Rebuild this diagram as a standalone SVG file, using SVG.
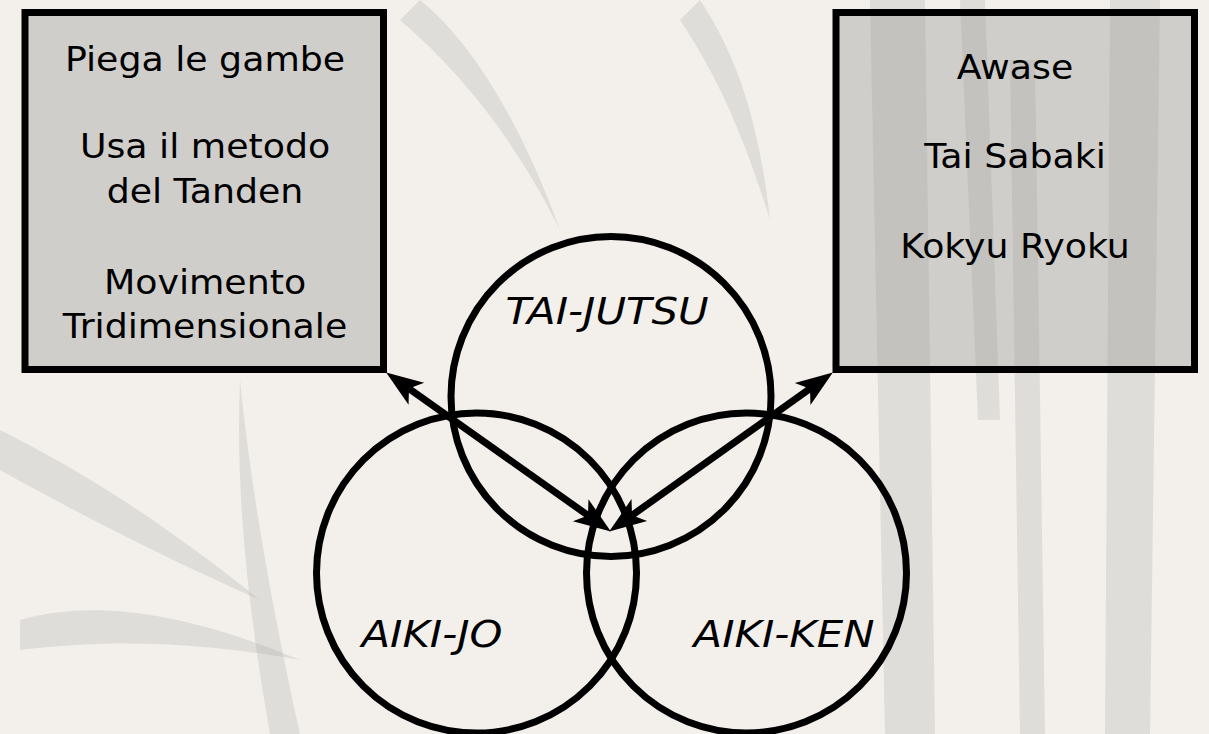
<svg xmlns="http://www.w3.org/2000/svg" width="1209" height="734" viewBox="0 0 1209 734">
  <defs>
    <style>
      .box { fill: #8f8f8f; fill-opacity: 0.35; stroke: #000; stroke-width: 7; }
      .ring { fill: none; stroke: #000; stroke-width: 7; }
      .conn { fill: none; stroke: #000; stroke-width: 7; }
      .t { font-family: "DejaVu Sans", Verdana, sans-serif; font-size: 33px; fill: #000; text-anchor: middle; }
      .lbl { font-family: "DejaVu Sans", Verdana, sans-serif; font-size: 38px; font-style: italic; fill: #000; text-anchor: middle; }
      .bam { fill: #9a9a9a; fill-opacity: 0.22; }
    </style>
    <marker id="head" markerUnits="userSpaceOnUse" markerWidth="80" markerHeight="80" refX="0" refY="0" orient="auto-start-reverse" overflow="visible" viewBox="-40 -40 80 80">
      <path d="M28,0 L-9,-13.5 L0,0 L-9,13.5 Z" fill="#000"/>
    </marker>
  </defs>

  <rect x="0" y="0" width="1209" height="734" fill="#f3f0eb"/>
  <g id="background">
    <path class="bam" d="M870,0 L925,0 L935,734 L885,734 Z"/>
    <path class="bam" d="M1110,0 L1160,0 L1150,734 L1105,734 Z"/>
    <path class="bam" d="M1010,60 L1035,60 L1045,734 L1020,734 Z"/>
    <path class="bam" d="M960,0 L985,0 L1000,420 L978,420 Z"/>
    <path class="bam" d="M0,430 C80,470 160,520 260,600 C170,560 90,520 0,470 Z"/>
    <path class="bam" d="M20,620 C90,600 180,610 300,660 C190,640 100,640 20,650 Z"/>
    <path class="bam" d="M240,380 C250,480 270,600 300,734 L270,734 C250,620 235,500 240,380 Z"/>
    <path class="bam" d="M420,0 C470,40 520,120 560,230 C520,150 470,80 400,20 Z"/>
    <path class="bam" d="M700,0 C740,60 760,130 770,220 C745,140 720,80 680,20 Z"/>
  </g>

  <g id="box-left">
    <rect class="box" x="25" y="12.5" width="358.5" height="357"/>
    <text class="t" transform="translate(205,70.7) scale(1.1,1)">Piega le gambe</text>
    <text class="t" transform="translate(205,158.3) scale(1.1,1)">Usa il metodo</text>
    <text class="t" transform="translate(205,203.3) scale(1.1,1)">del Tanden</text>
    <text class="t" transform="translate(205,294) scale(1.1,1)">Movimento</text>
    <text class="t" transform="translate(205,338.3) scale(1.1,1)">Tridimensionale</text>
  </g>

  <g id="box-right">
    <rect class="box" x="836" y="12.5" width="358.5" height="357"/>
    <text class="t" transform="translate(1015,79.3) scale(1.1,1)">Awase</text>
    <text class="t" transform="translate(1015,167.7) scale(1.1,1)">Tai Sabaki</text>
    <text class="t" transform="translate(1015,258.3) scale(1.1,1)">Kokyu Ryoku</text>
  </g>

  <g id="tai-jutsu">
    <circle class="ring" cx="611" cy="396.5" r="160"/>
    <text class="lbl" transform="translate(607,324) scale(1.1,1)">TAI-JUTSU</text>
  </g>

  <g id="aiki-jo">
    <circle class="ring" cx="476.5" cy="573" r="160"/>
    <text class="lbl" transform="translate(432,647) scale(1.1,1)">AIKI-JO</text>
  </g>

  <g id="aiki-ken">
    <circle class="ring" cx="746.5" cy="573" r="160"/>
    <text class="lbl" transform="translate(784,647) scale(1.1,1)">AIKI-KEN</text>
  </g>

  <g id="connectors">
    <line class="conn" x1="409" y1="388.6" x2="588" y2="515.4" marker-start="url(#head)" marker-end="url(#head)"/>
    <line class="conn" x1="810" y1="388.7" x2="632" y2="515.3" marker-start="url(#head)" marker-end="url(#head)"/>
  </g>
</svg>
